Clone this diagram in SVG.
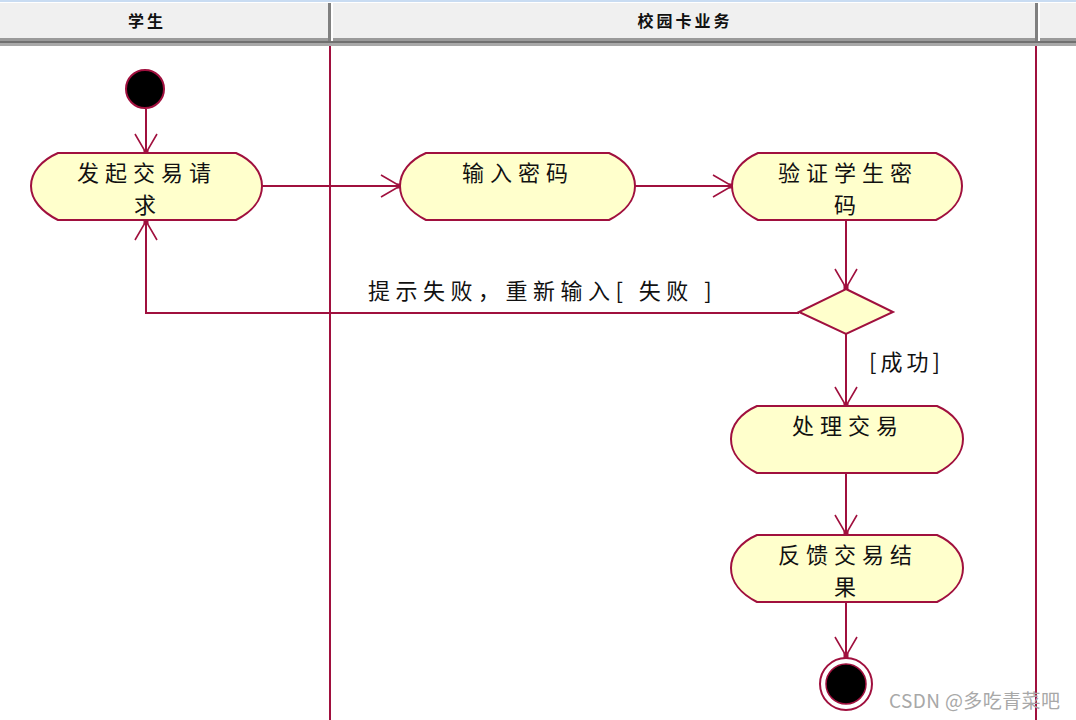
<svg xmlns="http://www.w3.org/2000/svg" width="1076" height="720" viewBox="0 0 1076 720">
<style>
.hdr{font-family:"Noto Sans CJK SC","Liberation Sans",sans-serif;font-size:16px;font-weight:bold;fill:#111;text-anchor:middle;letter-spacing:3px}
.lbl{font-family:"Noto Sans CJK SC","Liberation Sans",sans-serif;font-size:22px;fill:#111;text-anchor:middle;letter-spacing:6px}
.gl{font-family:"Noto Sans CJK SC","Liberation Sans",sans-serif;font-size:22px;fill:#111;letter-spacing:5.5px}
.act{fill:#ffffcc;stroke:#a0103e;stroke-width:2}
.ln{fill:none;stroke:#a0103e;stroke-width:2}
.lane{stroke:#a0103e;stroke-width:2}
</style>
<defs>
<marker id="arr" viewBox="-22 -12 26 24" markerWidth="26" markerHeight="24" refX="0" refY="0" orient="auto" markerUnits="userSpaceOnUse">
<path d="M-19,-11 L0,0 L-19,11" fill="none" stroke="#a0103e" stroke-width="1.6"/>
<rect x="-3" y="-2.5" width="5" height="5" fill="#a0103e"/>
</marker>
</defs>
<rect width="1076" height="720" fill="#ffffff"/>
<g id="header">
<rect x="0" y="0" width="1076" height="2" fill="#c9dcf2"/>
<rect x="0" y="3" width="1076" height="35" fill="#f0f0f0"/>
<rect x="0" y="38" width="1076" height="3" fill="#9a9a9a"/>
<rect x="0" y="41" width="1076" height="2" fill="#707070"/>
<rect x="0" y="43" width="1076" height="3" fill="#a8a8a8"/>
<rect x="328" y="3" width="3" height="38" fill="#808080"/>
<rect x="331" y="3" width="2" height="38" fill="#ffffff"/>
<rect x="1035" y="3" width="3" height="38" fill="#808080"/>
<rect x="1038" y="3" width="2" height="38" fill="#ffffff"/>
<text class="hdr" x="147" y="27">学生</text>
<text class="hdr" x="685" y="27">校园卡业务</text>
</g>
<g id="lanes">
<line class="lane" x1="330" y1="46" x2="330" y2="720"/>
<line class="lane" x1="1036" y1="46" x2="1036" y2="720"/>
</g>
<g id="connectors">
<line class="ln" x1="146" y1="109" x2="146" y2="153" marker-end="url(#arr)"/>
<line class="ln" x1="262" y1="186" x2="400" y2="186" marker-end="url(#arr)"/>
<line class="ln" x1="635" y1="186" x2="732" y2="186" marker-end="url(#arr)"/>
<line class="ln" x1="846" y1="220" x2="846" y2="288" marker-end="url(#arr)"/>
<polyline class="ln" points="799,313 146,313 146,221" marker-end="url(#arr)"/>
<line class="ln" x1="846" y1="334" x2="846" y2="406" marker-end="url(#arr)"/>
<line class="ln" x1="846" y1="473" x2="846" y2="534" marker-end="url(#arr)"/>
<line class="ln" x1="846" y1="602" x2="846" y2="656" marker-end="url(#arr)"/>
<text class="gl" x="368" y="299">提示失败，重新输入[ 失败 ]</text>
<text class="gl" x="869" y="370" style="letter-spacing:4px">[成功]</text>
</g>
<g id="start">
<circle cx="145" cy="89" r="19" fill="#000" stroke="#a0103e" stroke-width="2"/>
</g>
<g id="n1">
<path class="act" d="M58,153 H236 C252,160 262,172 262,186 C262,200 252,212 236,220 H58 C42,212 31,200 31,186 C31,172 42,160 58,153 Z"/>
<text class="lbl" x="147" y="181">发起交易请</text>
<text class="lbl" x="148" y="213">求</text>
</g>
<g id="n2">
<path class="act" d="M426,153 H609 C625,160 635,172 635,186 C635,200 625,212 609,220 H426 C410,212 400,200 400,186 C400,172 410,160 426,153 Z"/>
<text class="lbl" x="518" y="181">输入密码</text>
</g>
<g id="n3">
<path class="act" d="M758,153 H936 C952,160 962,172 962,186 C962,200 952,212 936,220 H758 C742,212 732,200 732,186 C732,172 742,160 758,153 Z"/>
<text class="lbl" x="848" y="181">验证学生密</text>
<text class="lbl" x="848" y="213">码</text>
</g>
<g id="decision">
<polygon class="act" points="846,289 893,312 846,334 799,312"/>
</g>
<g id="n4">
<path class="act" d="M757,406 H937 C953,413 963,425 963,439 C963,453 953,465 937,473 H757 C741,465 731,453 731,439 C731,425 741,413 757,406 Z"/>
<text class="lbl" x="848" y="434">处理交易</text>
</g>
<g id="n5">
<path class="act" d="M757,535 H937 C953,542 963,554 963,568 C963,582 953,594 937,602 H757 C741,594 731,582 731,568 C731,554 741,542 757,535 Z"/>
<text class="lbl" x="848" y="563">反馈交易结</text>
<text class="lbl" x="848" y="595">果</text>
</g>
<g id="end">
<circle cx="846" cy="684" r="26" fill="#ffffff" stroke="#a0103e" stroke-width="2"/>
<circle cx="846" cy="684" r="20" fill="#000" stroke="#a0103e" stroke-width="1.5"/>
</g>
<text x="889" y="708" font-family="'Noto Sans CJK SC','Liberation Sans',sans-serif" font-size="19" fill="#a8a8a8" textLength="171">CSDN @多吃青菜吧</text>
</svg>
